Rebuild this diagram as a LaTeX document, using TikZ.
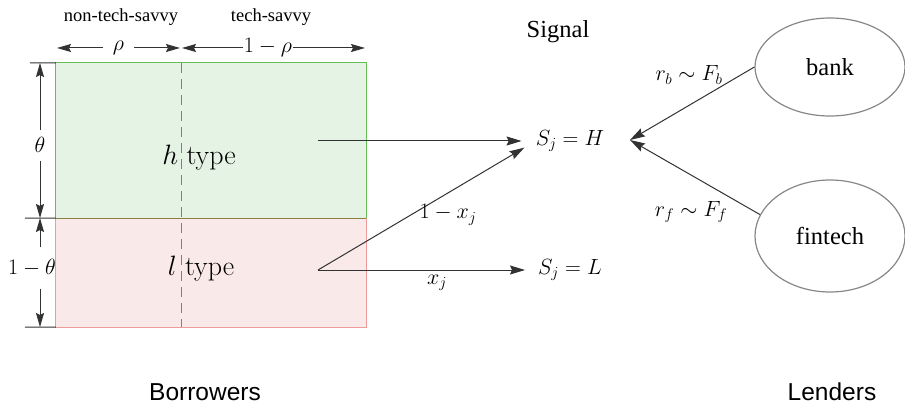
\documentclass[tikz,border=0pt]{standalone}
\RequirePackage{fix-cm}
\usepackage{fontspec}
\newfontfamily\timesf{Liberation Serif}
\newfontfamily\arialf{Liberation Sans}
\usetikzlibrary{arrows.meta,shapes.geometric}
\definecolor{hfill}{RGB}{228,243,228}
\definecolor{hline}{RGB}{100,190,85}
\definecolor{lfill}{RGB}{250,233,233}
\definecolor{lline}{RGB}{240,155,155}
\definecolor{midline}{RGB}{140,125,65}
\definecolor{arrowc}{RGB}{50,50,50}
\definecolor{ellc}{RGB}{135,135,135}
\tikzset{
  arr/.style={draw=arrowc, line width=1pt, -{Stealth[length=15pt,width=9pt,inset=2pt]}},
  dimarr/.style={draw=arrowc, line width=1pt, {Stealth[length=14pt,width=8pt,inset=2pt]}-{Stealth[length=14pt,width=8pt,inset=2pt]}},
  halfarr/.style={draw=arrowc, line width=1pt, -{Stealth[length=14pt,width=8pt,inset=2pt]}},
  tick/.style={draw=arrowc, line width=1pt},
  mathlbl/.style={font=\fontsize{22}{26}\selectfont, inner sep=0pt},
  dimlbl/.style={font=\fontsize{22}{26}\selectfont, fill=white},
  toplbl/.style={font=\timesf\fontsize{18.5}{22}\selectfont, inner sep=0pt},
  timeslbl/.style={font=\timesf\fontsize{24.5}{28}\selectfont, inner sep=0pt},
  sanslbl/.style={font=\arialf\fontsize{24.5}{28}\selectfont, inner sep=0pt},
  typelbl/.style={font=\fontsize{28}{32}\selectfont, inner sep=0pt},
  lender/.style={ellipse, draw=ellc, line width=1.2pt, font=\timesf\fontsize{24.5}{28}\selectfont, inner sep=0pt},
}
\begin{document}
\begin{tikzpicture}[x=1pt,y=-1pt]
\useasboundingbox (0,0) rectangle (905,406);
% boxes
\node[draw=none, fill=hfill, minimum width=310pt, minimum height=155pt, inner sep=0pt] (hbox) at (211,140.5) {};
\node[draw=none, fill=lfill, minimum width=310pt, minimum height=109pt, inner sep=0pt] (lbox) at (211,272.5) {};
\draw[hline, line width=1pt] (hbox.south west) -- (hbox.north west) -- (hbox.north east) -- (hbox.south east);
\draw[lline, line width=1pt] (lbox.north west) -- (lbox.south west) -- (lbox.south east) -- (lbox.north east);
\draw[midline, line width=1pt] (hbox.south west) -- (hbox.south east);
\draw[gray, line width=1pt, dash pattern=on 10pt off 6pt] (181,63) -- (181,327);
% type labels
\node[typelbl] (htype) at (199,158) {$h$ type};
\node[typelbl] (ltype) at (201,269) {$l$ type};
% top labels
\node[toplbl] (nts) at (121,17) {non-tech-savvy};
\node[toplbl] (ts) at (271,17) {tech-savvy};
% horizontal dimension arrows
\coordinate (rA) at (57,48);
\coordinate (rB) at (180,48);
\coordinate (rC) at (182,48);
\coordinate (rD) at (365,48);
\draw[dimarr] (rA) -- node[dimlbl, inner xsep=10pt] (rho) {$\rho$} (rB);
\draw[dimarr] (rC) -- node[dimlbl, inner xsep=1pt, pos=0.47] (omrho) {$1-\rho$} (rD);
% ticks
\coordinate (tkA) at (30,63);
\coordinate (tkB) at (25,218);
\coordinate (tkC) at (25,327);
\draw[tick] (tkA) -- (hbox.north west);
\draw[tick] (tkB) -- (hbox.south west);
\draw[tick] (tkC) -- (lbox.south west);
% vertical dimension arrows
\coordinate (vA) at (40,63);
\coordinate (vB) at (40,218);
\coordinate (vC) at (40,327);
\draw[dimarr] (vA) -- node[dimlbl, inner xsep=1pt, inner ysep=8pt, pos=0.53] (theta) {$\theta$} (vB);
\node[mathlbl, minimum height=41pt] (omtheta) at (32,268) {$1-\theta$};
\draw[halfarr] (vB |- omtheta.north) -- (vB);
\draw[halfarr] (vC |- omtheta.south) -- (vC);
% signals
\node[timeslbl] (signal) at (558,32) {Signal};
\node[mathlbl] (sH) at (570,141) {$S_j=H$};
\node[mathlbl] (sL) at (570,270) {$S_j=L$};
\coordinate (hstart) at (318,141);
\coordinate (lstart) at (318,270);
\draw[arr, shorten >=14pt] (hstart) -- (sH.west);
\draw[arr, shorten >=13pt] (lstart) -- (sH.west);
\draw[arr, shorten >=13pt] (lstart) -- (sL.west);
\node[mathlbl] (oxj) at (448,215) {$1-x_j$};
\node[mathlbl] (xj) at (437,283) {$x_j$};
% lenders
\node[lender, minimum width=150pt, minimum height=98pt] (bank) at (830,67) {bank};
\node[lender, minimum width=150pt, minimum height=112pt] (fintech) at (830,236) {fintech};
\coordinate (ltip) at (630,140);
\draw[arr] (bank.west) -- (ltip);
\draw[arr] (fintech.163) -- (ltip);
\node[mathlbl] (rb) at (689,75) {$r_b\sim F_b$};
\node[mathlbl] (rf) at (691,212) {$r_f\sim F_f$};
% bottom labels
\node[sanslbl] (borrowers) at (205,392) {Borrowers};
\node[sanslbl] (lenders) at (832,392) {Lenders};
\end{tikzpicture}
\end{document}
